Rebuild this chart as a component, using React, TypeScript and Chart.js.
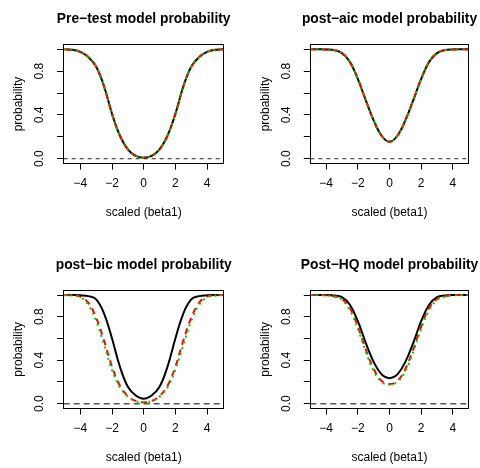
import React, { useEffect, useRef } from "react";
import { Chart, registerables } from "chart.js";

Chart.register(...registerables);

const FONT = "'Liberation Sans', Arial, Helvetica, sans-serif";

// ---------------- data ----------------
const xValues = [-5, -4.5, -4, -3.5, -3, -2.5, -2, -1.5, -1, -0.5, 0, 0.5, 1, 1.5, 2, 2.5, 3, 3.5, 4, 4.5, 5];

const titles = [
  "Pre\u2212test model probability",
  "post\u2212aic model probability",
  "post\u2212bic model probability",
  "Post\u2212HQ model probability",
];

const xTicks = [-4, -2, 0, 2, 4];
const xTickLabels = ["\u22124", "\u22122", "0", "2", "4"];
const yTicks = [0, 0.2, 0.4, 0.6, 0.8, 1.0];
const yTickLabels = ["0.0", "", "0.4", "", "0.8", ""];
const xAxisTitle = "scaled (beta1)";
const yAxisTitle = "probability";
const referenceLevel = 0;

// Pre-test
const preBlack = [1.0, 0.995, 0.977, 0.93, 0.84, 0.66, 0.41, 0.21, 0.085, 0.025, 0.01, 0.025, 0.085, 0.21, 0.41, 0.66, 0.84, 0.93, 0.977, 0.995, 1.0];
const preRed = [1.0, 0.995, 0.977, 0.93, 0.84, 0.66, 0.41, 0.21, 0.085, 0.025, 0.01, 0.025, 0.085, 0.21, 0.41, 0.66, 0.84, 0.93, 0.977, 0.995, 1.0];
const preGreen = [1.0, 0.995, 0.977, 0.93, 0.84, 0.66, 0.41, 0.21, 0.085, 0.025, 0.01, 0.025, 0.085, 0.21, 0.41, 0.66, 0.84, 0.93, 0.977, 0.995, 1.0];

// post-aic
const aicBlack = [1.0, 1.0, 0.999, 0.993, 0.965, 0.885, 0.73, 0.535, 0.35, 0.21, 0.155, 0.21, 0.35, 0.535, 0.73, 0.885, 0.965, 0.993, 0.999, 1.0, 1.0];
const aicRed = [1.0, 1.0, 0.999, 0.993, 0.965, 0.885, 0.73, 0.535, 0.35, 0.21, 0.155, 0.21, 0.35, 0.535, 0.73, 0.885, 0.965, 0.993, 0.999, 1.0, 1.0];
const aicGreen = [1.0, 1.0, 0.999, 0.993, 0.965, 0.885, 0.73, 0.535, 0.35, 0.21, 0.155, 0.21, 0.35, 0.535, 0.73, 0.885, 0.965, 0.993, 0.999, 1.0, 1.0];

// post-bic
const bicBlack = [1.0, 1.0, 0.998, 0.99, 0.96, 0.83, 0.6, 0.34, 0.155, 0.075, 0.045, 0.075, 0.155, 0.34, 0.6, 0.83, 0.96, 0.99, 0.998, 1.0, 1.0];
const bicRed = [1.0, 0.997, 0.985, 0.93, 0.79, 0.58, 0.34, 0.165, 0.07, 0.025, 0.012, 0.025, 0.07, 0.165, 0.34, 0.58, 0.79, 0.93, 0.985, 0.997, 1.0];
const bicGreen = [0.999, 0.995, 0.98, 0.91, 0.76, 0.54, 0.31, 0.15, 0.065, 0.022, 0.012, 0.022, 0.065, 0.15, 0.31, 0.54, 0.76, 0.91, 0.98, 0.995, 0.999];

// post-HQ
const hqBlack = [1.0, 1.0, 1.0, 0.995, 0.98, 0.91, 0.76, 0.56, 0.385, 0.27, 0.235, 0.27, 0.385, 0.56, 0.76, 0.91, 0.98, 0.995, 1.0, 1.0, 1.0];
const hqRed = [1.0, 1.0, 0.999, 0.99, 0.965, 0.88, 0.71, 0.5, 0.32, 0.21, 0.18, 0.21, 0.32, 0.5, 0.71, 0.88, 0.965, 0.99, 0.999, 1.0, 1.0];
const hqGreen = [1.0, 0.999, 0.997, 0.985, 0.955, 0.86, 0.69, 0.48, 0.3, 0.2, 0.175, 0.2, 0.3, 0.48, 0.69, 0.86, 0.955, 0.985, 0.997, 0.999, 1.0];

// ---------------- layout / style ----------------
const W = 240;
const H = 234;
const TITLE_SIZE = 13.8;
const LABEL_SIZE = 12;

type PanelCfg = {
  title: string;
  black: number[];
  red: number[];
  green: number[];
  left: number;
  top: number;
  plotLeft: number;
  plotRight: number;
  plotTop: number;
  plotBottom: number;
  xMin: number;
  xMax: number;
  refColor: string;
  refWidth: number;
  refDash: number[];
};

const panels: PanelCfg[] = [
  { title: titles[0], black: preBlack, red: preRed, green: preGreen, left: 0, top: 0,
    plotLeft: 63.7, plotRight: 223.7, plotTop: 44.9, plotBottom: 163.1, xMin: -5.05, xMax: 5.05,
    refColor: "#222", refWidth: 1, refDash: [4, 4] },
  { title: titles[1], black: aicBlack, red: aicRed, green: aicGreen, left: 240, top: 0,
    plotLeft: 70.3, plotRight: 228.7, plotTop: 44.9, plotBottom: 163.1, xMin: -5, xMax: 5,
    refColor: "#222", refWidth: 1, refDash: [4, 4] },
  { title: titles[2], black: bicBlack, red: bicRed, green: bicGreen, left: 0, top: 234,
    plotLeft: 63.7, plotRight: 223.7, plotTop: 56.7, plotBottom: 174, xMin: -5.05, xMax: 5.05,
    refColor: "#555", refWidth: 1.5, refDash: [6, 4] },
  { title: titles[3], black: hqBlack, red: hqRed, green: hqGreen, left: 240, top: 234,
    plotLeft: 70.3, plotRight: 228.7, plotTop: 56.7, plotBottom: 174, xMin: -5, xMax: 5,
    refColor: "#555", refWidth: 1.5, refDash: [6, 4] },
];

const framePlugin = {
  id: "rframe",
  afterDatasetsDraw(chart: any, _args: any, opts: any) {
    const { ctx, chartArea, scales } = chart;
    const y = scales.y.getPixelForValue(referenceLevel);
    ctx.save();
    ctx.beginPath();
    ctx.rect(chartArea.left, chartArea.top, chartArea.right - chartArea.left, chartArea.bottom - chartArea.top);
    ctx.clip();
    ctx.strokeStyle = opts.refColor;
    ctx.lineWidth = opts.refWidth;
    ctx.setLineDash(opts.refDash);
    ctx.beginPath();
    ctx.moveTo(chartArea.left, y);
    ctx.lineTo(chartArea.right, y);
    ctx.stroke();
    ctx.restore();

    ctx.save();
    ctx.strokeStyle = "#000";
    ctx.lineWidth = 1;
    const a = (v: number) => Math.round(v - 0.5) + 0.5;
    const l = a(chartArea.left), r = a(chartArea.right), t = a(chartArea.top), b = a(chartArea.bottom);
    ctx.strokeRect(l, t, r - l, b - t);
    ctx.restore();

    // main title, centred over the plot region (R style)
    ctx.save();
    ctx.fillStyle = "#000";
    ctx.font = `bold ${TITLE_SIZE}px ${FONT}`;
    ctx.textAlign = "center";
    ctx.textBaseline = "alphabetic";
    ctx.fillText(opts.title, (chartArea.left + chartArea.right) / 2, chartArea.top - 22.2);
    ctx.restore();
  },
};

function Panel({ cfg }: { cfg: PanelCfg }) {
  const ref = useRef<HTMLCanvasElement | null>(null);
  useEffect(() => {
    if (!ref.current) return;
    const pts = (arr: number[]) => xValues.map((x, i) => ({ x, y: arr[i] }));
    const labelLH = LABEL_SIZE * 1.2;
    const yTitleCenter = cfg.plotLeft - 45;
    const xTitleMid = cfg.plotBottom + 49.4;
    const common = { pointRadius: 0, tension: 0.4, fill: false };
    const chart = new Chart(ref.current, {
      type: "line",
      data: {
        datasets: [
          { data: pts(cfg.green), borderColor: "#00CD00", borderWidth: 2, borderDash: [2, 4], order: 0, ...common },
          { data: pts(cfg.red), borderColor: "#FF0000", borderWidth: 2, borderDash: [6, 5], order: 1, ...common },
          { data: pts(cfg.black), borderColor: "#000000", borderWidth: 2, order: 2, ...common },
        ],
      } as any,
      options: {
        responsive: false,
        animation: false,
        devicePixelRatio: 1,
        events: [],
        layout: { padding: { left: 0, top: cfg.plotTop, bottom: 0, right: W - cfg.plotRight } },
        plugins: {
          legend: { display: false },
          tooltip: { enabled: false },
          title: { display: false },
          rframe: { refColor: cfg.refColor, refWidth: cfg.refWidth, refDash: cfg.refDash, title: cfg.title },
        } as any,
        scales: {
          x: {
            type: "linear",
            min: cfg.xMin,
            max: cfg.xMax,
            afterBuildTicks: (s: any) => { s.ticks = xTicks.map((v) => ({ value: v })); },
            afterFit: (s: any) => { s.height = H - cfg.plotBottom; },
            ticks: {
              callback: (v: any) => xTickLabels[xTicks.indexOf(v)] ?? "",
              font: { family: FONT, size: LABEL_SIZE },
              color: "#000",
              padding: 7,
              maxRotation: 0,
              autoSkip: false,
            },
            grid: { drawOnChartArea: false, drawTicks: true, tickLength: 6.5, color: "#000", lineWidth: 1 },
            border: { display: false },
            title: {
              display: true,
              text: xAxisTitle,
              color: "#000",
              font: { family: FONT, size: LABEL_SIZE },
              padding: { top: 0, bottom: H - xTitleMid - labelLH / 2 },
            },
          },
          y: {
            type: "linear",
            min: -0.04,
            max: 1.04,
            afterBuildTicks: (s: any) => { s.ticks = yTicks.map((v) => ({ value: v })); },
            afterFit: (s: any) => { s.width = cfg.plotLeft; },
            ticks: {
              callback: (v: any) => yTickLabels[yTicks.indexOf(v)] ?? "",
              font: { family: FONT, size: LABEL_SIZE },
              color: "#000",
              padding: 9.2,
              minRotation: 90,
              maxRotation: 90,
              crossAlign: "center",
              autoSkip: false,
            },
            grid: { drawOnChartArea: false, drawTicks: true, tickLength: 6.5, color: "#000", lineWidth: 1 },
            border: { display: false },
            title: {
              display: true,
              text: yAxisTitle,
              color: "#000",
              font: { family: FONT, size: LABEL_SIZE },
              padding: { top: yTitleCenter - labelLH / 2, bottom: 0 },
            },
          },
        },
      } as any,
      plugins: [framePlugin],
    });
    return () => chart.destroy();
  }, [cfg]);
  return (
    <canvas
      ref={ref}
      width={W}
      height={H}
      style={{ position: "absolute", left: cfg.left, top: cfg.top, width: W, height: H }}
    />
  );
}

export default function App() {
  return (
    <div style={{ position: "absolute", left: 0, top: 0, width: 480, height: 468, background: "#fff" }}>
      {panels.map((p, i) => (
        <Panel key={i} cfg={p} />
      ))}
    </div>
  );
}
